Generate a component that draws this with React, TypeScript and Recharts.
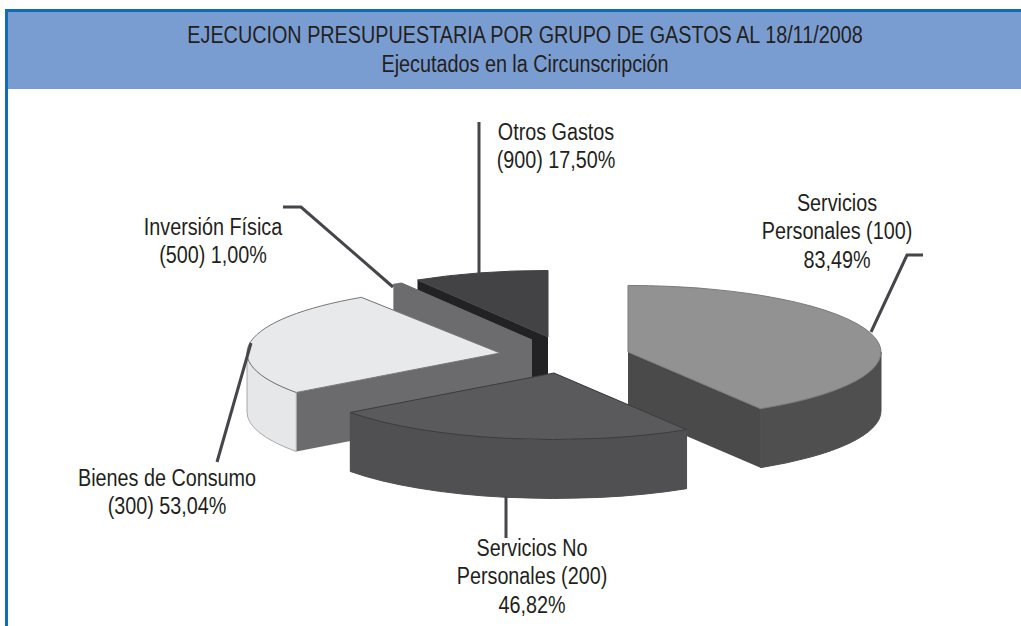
import React from 'react';
import { PieChart, Pie } from 'recharts';

// ---- data ----
const categories = ['Servicios Personales', 'Servicios No Personales', 'Bienes de Consumo', 'Inversión Física', 'Otros Gastos'];
const shares = [41.1, 23.6, 25.8, 0.6, 8.6];
const labelLines = [
  ['Servicios', 'Personales (100)', '83,49%'],
  ['Servicios No', 'Personales (200)', '46,82%'],
  ['Bienes de Consumo', '(300) 53,04%'],
  ['Inversión Física', '(500) 1,00%'],
  ['Otros Gastos', '(900) 17,50%'],
];
const titleLines = ['EJECUCION PRESUPUESTARIA POR GRUPO DE GASTOS AL 18/11/2008', 'Ejecutados en la Circunscripción'];

// ---- drawing style ----
const table = categories.map((name, i) => ({ name, value: shares[i] }));
const W = 1021, H = 626;
const CX = 545, CY = 350, R = 253, SQUASH = 0.263, DEPTH = 59;
const FONT = "'Liberation Sans', Arial, sans-serif";
const FONT_SIZE = 23, SCALE_X = 0.86;
const PAINT_ORDER = [4, 3, 2, 0, 1];
const OFFSETS = [[83, 2], [9, 23], [-45, 3], [-13, -10], [3, -13]];
const TOP = ['#929293', '#5a5a5c', '#e8e9eb', '#6c6c6e', '#434345'];
const OUTER = ['#4f4f50', '#505052', '#e6e7e9', '#6c6c6e', '#434345'];
const RADIAL = ['#4a4a4b', '#505052', '#6b6b6d', '#6c6c6e', '#222224'];
const EDGE = ['#7a7a7a', '#3c3c3e', '#77777a', '#6c6c6e', '#434345'];
const WALL_EDGE = ['#4f4f50', '#505052', '#a8a8ac', '#6c6c6e', '#434345'];
const TEXT_POS = [[837, 203], [532, 548], [167, 478], [213, 227], [556, 132]];
const LEADERS = [
  [[871, 332], [907, 255], [923, 255]],
  [[506, 496], [506, 538]],
  [[251, 343], [217, 462]],
  [[393, 287], [301, 207], [283, 207]],
  [[479, 277], [479, 122]],
];
const RAD = Math.PI / 180;

function pt(x: number, y: number, ang: number, r: number) {
  return [x + r * Math.cos(ang * RAD), y - r * SQUASH * Math.sin(ang * RAD)];
}

function arc(x: number, y: number, a0: number, a1: number, r: number) {
  const sweep = a1 > a0 ? 0 : 1;
  const large = Math.abs(a1 - a0) > 180 ? 1 : 0;
  const [ex, ey] = pt(x, y, a1, r);
  return `A${r},${r * SQUASH} 0 ${large} ${sweep} ${ex},${ey}`;
}

function makeShape(layer: number) {
  return function SliceShape(props: any) {
    const { index, cx, cy, outerRadius, startAngle, endAngle } = props;
    if (index !== layer) return <g />;
    const x = cx + OFFSETS[index][0];
    const y = cy + OFFSETS[index][1];
    const r = outerRadius;
    const a0 = Math.max(startAngle, endAngle);
    const a1 = Math.min(startAngle, endAngle);
    const [sx, sy] = pt(x, y, a0, r);
    const [ex, ey] = pt(x, y, a1, r);
    const faces: React.ReactNode[] = [];
    faces.push(
      <polygon key="ra" points={`${x},${y} ${sx},${sy} ${sx},${sy + DEPTH} ${x},${y + DEPTH}`} fill={RADIAL[index]} />,
    );
    faces.push(
      <polygon key="rb" points={`${x},${y} ${ex},${ey} ${ex},${ey + DEPTH} ${x},${y + DEPTH}`} fill={RADIAL[index]} />,
    );
    const ranges: [number, number][] = [[180, 360], [-180, 0]];
    ranges.forEach(([lo, hi], k) => {
      const from = Math.min(a0, hi);
      const to = Math.max(a1, lo);
      if (from > to) {
        const [fx, fy] = pt(x, y, from, r);
        const [tx, ty] = pt(x, y, to, r);
        faces.push(
          <path
            key={`o${k}`}
            d={`M${fx},${fy} ${arc(x, y, from, to, r)} L${tx},${ty + DEPTH} ${arc(x, y + DEPTH, to, from, r)} Z`}
            fill={OUTER[index]}
            stroke={WALL_EDGE[index]}
            strokeWidth={1}
          />,
        );
      }
    });
    return (
      <g>
        {faces}
        <path
          d={`M${x},${y} L${sx},${sy} ${arc(x, y, a0, a1, r)} Z`}
          fill={TOP[index]}
          stroke={EDGE[index]}
          strokeWidth={1}
          strokeLinejoin="round"
        />
      </g>
    );
  };
}

function renderLabel(props: any) {
  const { index } = props;
  const [tx, ty] = TEXT_POS[index];
  const pts = LEADERS[index].map((p) => p.join(',')).join(' ');
  return (
    <g>
      <polyline points={pts} fill="none" stroke="#45454a" strokeWidth={3} />
      {labelLines[index].map((line, i) => (
        <text
          key={line}
          transform={`translate(${tx},${ty + i * 28.7}) scale(${SCALE_X},1)`}
          textAnchor="middle"
          dominantBaseline="central"
          fontFamily={FONT}
          fontSize={FONT_SIZE}
          fill="#231f20"
        >
          {line}
        </text>
      ))}
    </g>
  );
}

export default function App() {
  return (
    <div style={{ position: 'fixed', left: 0, top: 0, width: W, height: H, overflow: 'hidden', background: '#fff' }}>
      <div style={{ position: 'absolute', left: 5, top: 9, width: 3, height: H - 9, background: '#0f6cb5' }} />
      <div style={{ position: 'absolute', left: 5, top: 9, width: W - 5, height: 3, background: '#0f6cb5' }} />
      <div style={{ position: 'absolute', left: 8, top: 12, width: W - 8, height: 77, background: '#7a9dd1' }} />
      {titleLines.map((t, i) => (
        <div
          key={t}
          style={{
            position: 'absolute', left: 525 - 500, width: 1000, top: 21 + i * 29, height: 28, lineHeight: '28px',
            textAlign: 'center', whiteSpace: 'nowrap', fontFamily: FONT, fontSize: FONT_SIZE, color: '#231f20',
            transform: `scaleX(${SCALE_X})`,
          }}
        >
          {t}
        </div>
      ))}
      <div style={{ position: 'absolute', left: 0, top: 0 }}>
        <PieChart width={W} height={H} margin={{ top: 0, right: 0, bottom: 0, left: 0 }}>
          {PAINT_ORDER.map((layer, i) => (
            <Pie
              key={layer}
              data={table}
              dataKey="value"
              nameKey="name"
              cx={CX}
              cy={CY}
              innerRadius={0}
              outerRadius={R}
              startAngle={90}
              endAngle={-270}
              stroke="none"
              isAnimationActive={false}
              shape={makeShape(layer)}
              label={i === PAINT_ORDER.length - 1 ? renderLabel : false}
              labelLine={false}
            />
          ))}
        </PieChart>
      </div>
    </div>
  );
}
